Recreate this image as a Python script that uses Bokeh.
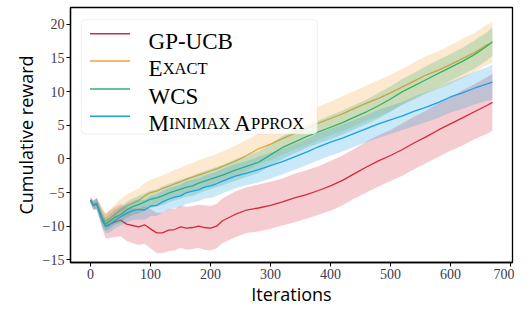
from bokeh.plotting import figure
from bokeh.models import Range1d, BoxAnnotation, Label, FixedTicker
from bokeh.embed import file_html
from bokeh.resources import INLINE

# ---------------- data ----------------
iters = [0, 5, 10, 15, 20, 25, 30,
         40, 50, 60, 70, 80, 90, 100, 110, 120, 130, 140, 150, 160, 170, 180, 190, 200, 210, 220,
         240, 260, 280, 300, 320, 340, 360, 380, 400, 420, 440, 460, 480, 500, 520, 540, 560, 580,
         600, 620, 640, 660, 670]

gp_ucb_mean = [-6.2, -6.9, -6.6, -7.8, -9.0, -10.0, -9.8,
               -9.4, -9.1, -9.7, -9.9, -10.1, -9.8, -10.4, -11.0, -11.0, -10.6, -10.5, -10.1, -10.3,
               -10.2, -10.0, -10.2, -10.3, -10.0, -9.2,
               -8.3, -7.6, -7.3, -6.9, -6.4, -5.8, -5.3, -4.7, -4.0, -3.2, -2.2, -1.2, -0.3, 0.5,
               1.4, 2.4, 3.3, 4.3, 5.2, 6.1, 7.0, 7.9,
               8.4]
gp_ucb_err = [0.5, 0.7, 0.9, 1.2, 1.5, 1.8, 2.0,
              2.2, 2.4, 2.5, 2.6, 2.7, 2.8, 2.9, 3.0, 3.0, 3.1, 3.1, 3.1, 3.2, 3.2, 3.2, 3.3, 3.3, 3.3, 3.3,
              3.4, 3.4, 3.5, 3.5, 3.5, 3.6, 3.6, 3.6, 3.7, 3.7, 3.7, 3.8, 3.8, 3.8, 3.9, 3.9, 3.9, 4.0,
              4.0, 4.1, 4.1, 4.2,
              4.2]

exact_mean = [-6.2, -6.8, -6.7, -7.6, -8.7, -9.3, -9.0,
              -8.3, -7.6, -7.0, -6.6, -6.2, -5.5, -5.0, -4.8, -4.4, -4.1, -3.7, -3.4, -3.0, -2.7,
              -2.4, -2.1, -1.8, -1.5, -1.1,
              -0.4, 0.5, 1.5, 2.2, 3.0, 3.8, 4.5, 5.3, 6.0, 6.7, 7.5, 8.3, 9.0, 9.8, 10.7, 11.6,
              12.5, 13.2, 14.0, 14.9, 15.8, 16.9,
              17.3]
exact_err = [0.4, 0.6, 0.8, 1.0, 1.1, 1.2, 1.3,
             1.5, 1.6, 1.7, 1.8, 1.8, 1.9, 1.9, 2.0, 2.0, 2.0, 2.1, 2.1, 2.1, 2.1, 2.2, 2.2, 2.2, 2.2, 2.2,
             2.3, 2.3, 2.3, 2.4, 2.4, 2.4, 2.5, 2.5, 2.5, 2.6, 2.6, 2.6, 2.7, 2.7, 2.7, 2.8, 2.8, 2.8,
             2.9, 2.9, 2.9, 3.0,
             3.0]

wcs_mean = [-6.2, -6.9, -6.7, -7.8, -9.0, -9.7, -9.4,
            -8.7, -8.3, -7.6, -7.1, -6.8, -6.4, -6.0, -5.8, -5.5, -5.1, -4.8, -4.5, -4.2, -4.0,
            -3.6, -3.3, -3.0, -2.7, -2.4,
            -1.7, -1.1, -0.5, 0.6, 1.7, 2.5, 3.3, 4.0, 4.7, 5.4, 6.2, 7.0, 7.9, 8.9, 10.0, 10.9,
            11.8, 12.7, 13.6, 14.5, 15.5, 16.7,
            17.4]
wcs_err = [0.4, 0.6, 0.8, 0.9, 1.0, 1.0, 1.1,
           1.1, 1.2, 1.2, 1.2, 1.3, 1.3, 1.3, 1.3, 1.4, 1.4, 1.4, 1.4, 1.4, 1.5, 1.5, 1.5, 1.5, 1.5, 1.5,
           1.6, 1.6, 1.6, 1.6, 1.7, 1.7, 1.7, 1.7, 1.8, 1.8, 1.8, 1.8, 1.9, 1.9, 1.9, 1.9, 2.0, 2.0,
           2.0, 2.0, 2.1, 2.1,
           2.1]

minimax_mean = [-6.1, -7.0, -6.6, -8.0, -9.3, -10.0, -9.9,
                -9.2, -8.6, -8.1, -7.7, -7.5, -7.6, -7.0, -6.9, -6.4, -6.0, -5.7, -5.5, -5.0, -4.8,
                -4.6, -4.2, -4.0, -3.7, -3.3,
                -2.6, -2.1, -1.6, -1.0, -0.4, 0.3, 1.0, 1.8, 2.5, 3.1, 3.8, 4.5, 5.2, 5.8, 6.4, 7.1,
                7.7, 8.4, 9.2, 9.8, 10.5, 11.1,
                11.4]
minimax_err = [0.4, 0.6, 0.8, 0.9, 1.0, 1.0, 1.1,
               1.2, 1.3, 1.4, 1.4, 1.5, 1.5, 1.5, 1.6, 1.6, 1.6, 1.6, 1.7, 1.7, 1.7, 1.7, 1.7, 1.8, 1.8, 1.8,
               1.8, 1.8, 1.9, 1.9, 1.9, 1.9, 1.9, 2.0, 2.0, 2.0, 2.0, 2.0, 2.1, 2.1, 2.1, 2.2, 2.2, 2.3,
               2.3, 2.4, 2.4, 2.5,
               2.6]

x_ticks = [0, 100, 200, 300, 400, 500, 600, 700]
y_ticks = [-15, -10, -5, 0, 5, 10, 15, 20]

# ---------------- figure ----------------
W, H = 514, 309
BL, BR, BT, BB = 70, 2, 7, 47
FW, FH = W - BL - BR, H - BT - BB
X0, X1 = -33.5, 703.5
Y0, Y1 = -15.4, 22.5

p = figure(width=W, height=H,
           x_range=Range1d(X0, X1), y_range=Range1d(Y0, Y1),
           output_backend="svg", toolbar_location=None,
           min_border_left=BL, min_border_right=BR, min_border_top=BT, min_border_bottom=BB)

p.background_fill_color = "white"
p.border_fill_color = "white"
p.outline_line_color = "black"
p.outline_line_width = 1.3
p.outline_line_alpha = 1.0
p.xgrid.visible = False
p.ygrid.visible = False

p.xaxis.ticker = FixedTicker(ticks=x_ticks)
p.yaxis.ticker = FixedTicker(ticks=y_ticks)
p.yaxis.major_label_overrides = {t: (("\u2212" + str(-t)) if t < 0 else str(t)) for t in y_ticks}

for ax in (p.xaxis[0], p.yaxis[0]):
    ax.axis_line_color = "black"
    ax.axis_line_width = 1.3
    ax.major_tick_line_color = "black"
    ax.major_tick_line_width = 1.0
    ax.major_tick_out = 4
    ax.major_tick_in = 0
    ax.minor_tick_line_color = None
    ax.major_label_text_font = "Liberation Serif"
    ax.major_label_text_font_size = "14px"
    ax.major_label_text_color = "#3a3a50"
    ax.major_label_standoff = 2
    ax.axis_label_text_font = "Open Sans"
    ax.axis_label_text_font_style = "normal"
    ax.axis_label_text_font_size = "18px"
    ax.axis_label_text_color = "black"

p.xaxis.axis_label = "Iterations"
p.xaxis.axis_label_standoff = 0
p.yaxis.axis_label = "Cumulative reward"
p.yaxis.axis_label_standoff = 2

series = [
    ("GP-UCB", gp_ucb_mean, gp_ucb_err, "#d62a3c"),
    ("Exact", exact_mean, exact_err, "#f2a33a"),
    ("WCS", wcs_mean, wcs_err, "#33b06a"),
    ("MinimaxApprox", minimax_mean, minimax_err, "#1d9fe3"),
]

for name, m, e, c in series:
    lo = [a - b for a, b in zip(m, e)]
    hi = [a + b for a, b in zip(m, e)]
    p.varea(x=iters, y1=lo, y2=hi, fill_color=c, fill_alpha=0.24)
    p.line(x=iters, y=m, line_color=c, line_width=1.3)

# ---------------- legend (drawn by hand to get small caps) ----------------
sx = FW / 453.0
sy = FH / 272.0


def dx(px):
    return X0 + px * sx * (X1 - X0) / FW


def dy(py):
    return Y1 - py * sy * (Y1 - Y0) / FH


box = BoxAnnotation(left=dx(11), right=dx(253), top=dy(13), bottom=dy(135),
                    fill_color="white", fill_alpha=0.8, line_color="#cccccc",
                    line_width=1, border_radius=4, level="annotation")
p.add_layout(box)

row_centers = [28, 57, 87, 116]
for (name, m, e, c), rc in zip(series, row_centers):
    p.segment(x0=[dx(20)], y0=[dy(rc)], x1=[dx(61)], y1=[dy(rc)],
              line_color=c, line_width=1.4, level="overlay")

BIG = 23
SMALL = 16.5
frags = [
    [("GP-UCB", BIG, 0)],
    [("E", BIG, 0), ("XACT", SMALL, 14.1)],
    [("WCS", BIG, 0)],
    [("M", BIG, 0), ("INIMAX", SMALL, 20.4), ("A", BIG, 85.8), ("PPROX", SMALL, 102.4)],
]
for rc, parts in zip(row_centers, frags):
    for txt, size, off in parts:
        p.add_layout(Label(x=dx(80), y=dy(rc + 8), x_offset=off, text=txt,
                           text_font="Liberation Serif", text_font_size=f"{size}px",
                           text_color="black", text_baseline="alphabetic",
                           text_align="left", level="overlay"))

open("out.html", "w").write(file_html(p, INLINE))
